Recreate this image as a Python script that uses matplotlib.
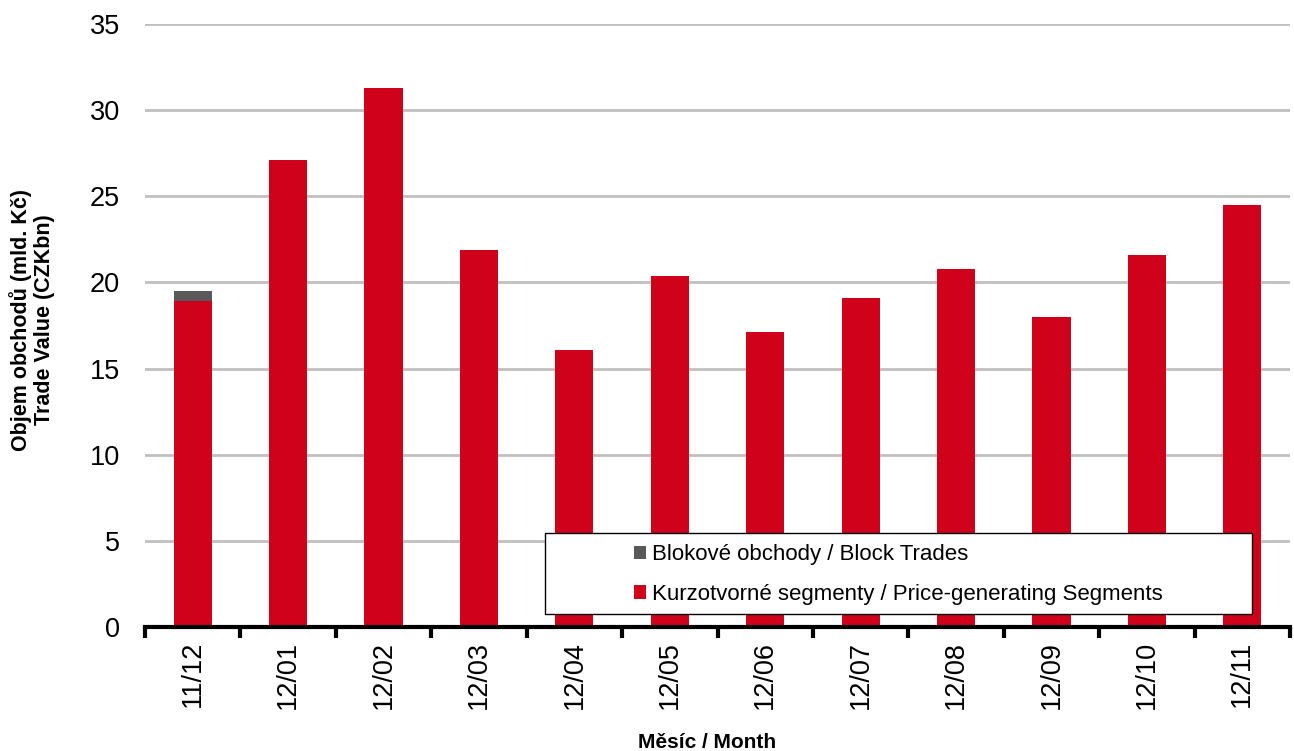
import matplotlib.pyplot as plt
import numpy as np
from matplotlib.patches import Rectangle

plt.rcParams['font.family'] = ['Liberation Sans', 'DejaVu Sans']

# Data
months = ['11/12', '12/01', '12/02', '12/03', '12/04', '12/05',
          '12/06', '12/07', '12/08', '12/09', '12/10', '12/11']
price_generating = [18.92, 27.13, 31.26, 21.9, 16.05, 20.35,
                    17.11, 19.09, 20.76, 17.98, 21.57, 24.48]
block_trades = [0.58, 0, 0, 0, 0, 0, 0, 0, 0, 0, 0, 0]
yticks = [0, 5, 10, 15, 20, 25, 30, 35]

red = '#D0021B'
grey = '#595959'

fig = plt.figure(figsize=(12.94, 7.51), dpi=100)
ax = fig.add_axes([145 / 1294, 1 - 627 / 751, 1145 / 1294, 603 / 751])

x = np.arange(len(months))
ax.bar(x, price_generating, width=0.4, color=red, zorder=3,
       label='Kurzotvorné segmenty / Price-generating Segments')
ax.bar(x, block_trades, width=0.4, bottom=price_generating, color=grey, zorder=3,
       label='Blokové obchody / Block Trades')

ax.set_xlim(-0.5, len(months) - 0.5)
ax.set_ylim(0, 35)
ax.set_yticks(yticks)
ax.tick_params(axis='y', length=0, pad=18, labelsize=19.5)
ax.grid(axis='y', color='#c0c0c0', linewidth=2, zorder=0)

ax.set_xticks(x)
ax.set_xticklabels(months, rotation=90, fontsize=19.5)
ax.tick_params(axis='x', which='major', length=0, pad=10)
ax.set_xticks(np.arange(-0.5, len(months), 1), minor=True)
ax.tick_params(axis='x', which='minor', length=8, width=3, color='black')

for side in ['left', 'right', 'top']:
    ax.spines[side].set_visible(False)
ax.spines['bottom'].set_linewidth(3)
ax.spines['bottom'].set_zorder(4)

# legend box with centred content
ax.add_patch(Rectangle((0.349, 0.0216), 0.618, 0.1344, transform=ax.transAxes,
                       facecolor='white', edgecolor='black', linewidth=1, zorder=5))
handles, labels = ax.get_legend_handles_labels()
leg = ax.legend(handles[::-1], labels[::-1], loc='center', bbox_to_anchor=(0.658, 0.087),
                frameon=False, fontsize=16, handlelength=0.55, handleheight=0.55,
                handletextpad=0.25, labelspacing=0.85, borderpad=0)
leg.set_zorder(6)

fig.text(32 / 1294, 1 - 320 / 751, 'Objem obchodů (mld. Kč)\nTrade Value (CZKbn)',
         rotation=90, ha='center', va='center', multialignment='center',
         fontsize=15.5, fontweight='bold', linespacing=1.12)
fig.text(707 / 1294, 1 - 742 / 751, 'Měsíc / Month', ha='center', va='center',
         fontsize=15, fontweight='bold')

fig.savefig('out.png', dpi=100)
